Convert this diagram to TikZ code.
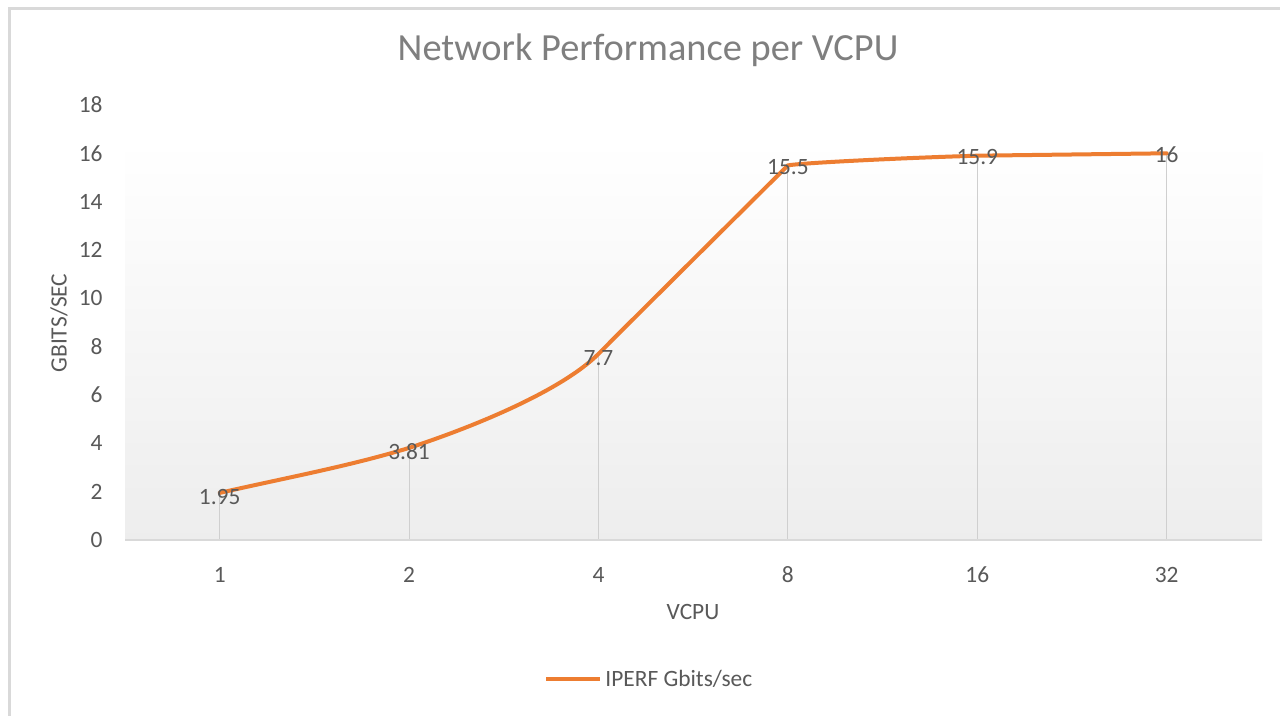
\documentclass[tikz,border=0pt]{standalone}
\usepackage{fontspec}
\setmainfont{Carlito}
\definecolor{txt}{HTML}{595959}
\definecolor{ttl}{HTML}{7F7F7F}
\definecolor{ser}{HTML}{ED7D31}
\definecolor{axl}{HTML}{D9D9D9}
\definecolor{drop}{HTML}{CFCFCF}
\definecolor{frame}{HTML}{D9D9D9}
\tikzset{
  ticklbl/.style={font=\fontsize{11.7}{13}\selectfont, text=txt, inner sep=0pt},
  ylbl/.style={ticklbl, anchor=east},
  datalbl/.style={font=\fontsize{11.7}{13}\selectfont, text=txt, inner sep=0pt},
  axtitle/.style={font=\fontsize{11.7}{13}\selectfont, text=txt, inner sep=0pt},
  series/.style={draw=ser, line width=2pt, line cap=round, line join=round},
  dropline/.style={draw=drop, line width=0.5pt},
}
\begin{document}
\begin{tikzpicture}[x=0.5pt,y=-0.5pt]
\useasboundingbox (0,0) rectangle (1280,716);
\fill[white] (0,0) rectangle (1280,716);
% frame (top and left edges visible)
\draw[frame, line width=1.5pt] (9,716) -- (9,9) -- (1280,9);
% plot area gradient
\shade[top color=white, bottom color=black!7] (125,140) rectangle (1262,540);
% title
\node[font=\fontsize{19.2}{22}\selectfont, text=ttl, inner sep=0pt] (title) at (648,50) {Network Performance per VCPU};
% y tick labels
\foreach \v in {0,2,...,18} {
  \node[ylbl] (y\v) at (103,{540-\v*24.17}) {\v};
}
% y axis title
\node[axtitle] (ytitle) at (59,323) {\rotatebox{90}{GBITS/SEC}};
% x axis
\coordinate (axL) at (125,540);
\coordinate (axR) at (1262,540);
% data points
\coordinate (p1) at (219.7,492.9);
\coordinate (p2) at (409.1,447.9);
\coordinate (p3) at (598.5,353.9);
\coordinate (p4) at (787.9,165.4);
\coordinate (p5) at (977.3,155.7);
\coordinate (p6) at (1166.7,153.3);
\foreach \i/\x in {1/219.7,2/409.1,3/598.5,4/787.9,5/977.3,6/1166.7} {
  \coordinate (b\i) at (\x,540);
  \draw[dropline] (p\i) -- (b\i);
}
\draw[axl, line width=0.75pt] (axL) -- (axR);
% x tick labels
\foreach \i/\x/\t in {1/219.7/1,2/409.1/2,3/598.5/4,4/787.9/8,5/977.3/16,6/1166.7/32} {
  \node[ticklbl] (x\i) at (\x,575) {\t};
}
\node[axtitle] (xtitle) at (693,612) {VCPU};
% series
\draw[series] (p1) .. controls (285,478) and (350,466) .. (p2)
  .. controls (470,428) and (560,392) .. (p3)
  .. controls (630,322) and (745,208) .. (p4)
  .. controls (800,163) and (900,158) .. (p5)
  -- (p6);
% data labels
\node[datalbl] (l1) at ([yshift=-2pt]p1) {1.95};
\node[datalbl] (l2) at ([yshift=-2pt]p2) {3.81};
\node[datalbl] (l3) at ([yshift=-2pt]p3) {7.7};
\node[datalbl] (l4) at ([yshift=-1pt]p4) {15.5};
\node[datalbl] (l5) at ([yshift=-0.5pt]p5) {15.9};
\node[datalbl] (l6) at ([yshift=-0.5pt]p6) {16};
% legend
\coordinate (legA) at (546,679);
\coordinate (legB) at (600,679);
\draw[series, line cap=butt] (legA) -- (legB);
\node[ticklbl, anchor=west] (legtxt) at (605,679) {IPERF Gbits/sec};
\end{tikzpicture}
\end{document}
